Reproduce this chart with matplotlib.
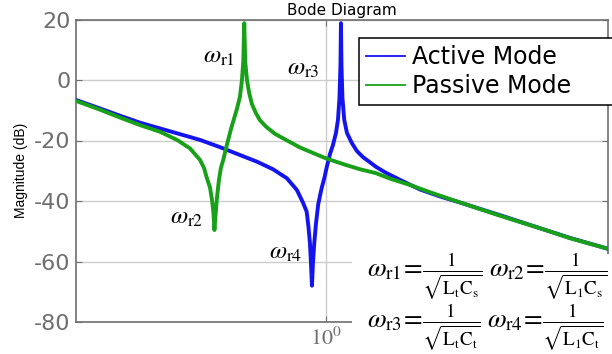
import matplotlib
matplotlib.use("Agg")
import matplotlib.pyplot as plt
from matplotlib.lines import Line2D
from matplotlib.patches import Rectangle
from matplotlib.ticker import NullLocator

plt.rcParams["axes.unicode_minus"] = False
plt.rcParams["mathtext.fontset"] = "stix"

# Frequency (normalised, rad/s) and magnitude (dB) of the two operating modes
freq_active = [0.2207, 0.2552, 0.2879, 0.3249, 0.3667, 0.4138, 0.4670, 0.5270,
               0.5947, 0.6590, 0.7259, 0.7900, 0.8392, 0.8702, 0.8899, 0.8996,
               0.9078, 0.9133, 0.9189, 0.9244, 0.9317, 0.9414, 0.9545, 0.9732,
               0.9898, 1.0061, 1.0245, 1.0432, 1.0623, 1.0752, 1.0850, 1.0916,
               1.0949, 1.0982, 1.1048, 1.1169, 1.1353, 1.1701, 1.2060, 1.2506,
               1.3046, 1.3528, 1.4285, 1.5640, 1.7650, 1.9917, 2.2475, 2.9145,
               3.6450, 4.3695, 5.4978]
mag_active = [-6.6, -9.4, -11.8, -14.1, -16.0, -17.9, -19.8, -22.2,
              -24.8, -27.0, -29.5, -32.5, -36.4, -40.5, -43.5, -48.5,
              -54.0, -60.5, -68.0, -60.5, -54.0, -47.5, -41.0, -36.0,
              -32.5, -28.5, -24.5, -21.5, -17.5, -13.2, -6.0, 5.0,
              18.8, 5.0, -6.0, -13.2, -17.5, -20.9, -23.5, -25.5,
              -27.2, -28.7, -30.5, -33.0, -36.2, -38.5, -40.5, -45.0,
              -49.0, -52.2, -55.8]

freq_passive = [0.2207, 0.2552, 0.2879, 0.3249, 0.3667, 0.4064, 0.4396, 0.4670,
                0.4784, 0.4871, 0.4961, 0.5021, 0.5067, 0.5097, 0.5128, 0.5175,
                0.5238, 0.5301, 0.5376, 0.5508, 0.5656, 0.5829, 0.5947, 0.6019,
                0.6067, 0.6103, 0.6140, 0.6204, 0.6290, 0.6394, 0.6551, 0.6711,
                0.6959, 0.7348, 0.7853, 0.8546, 0.9357, 1.0000, 1.1285, 1.2281,
                1.3528, 1.4722, 1.6614, 1.8748, 2.1544, 2.9145, 3.6450, 4.3695,
                5.4978]
mag_passive = [-6.9, -9.8, -12.4, -14.9, -17.1, -19.8, -22.6, -26.4,
               -29.0, -32.5, -35.5, -39.5, -44.0, -49.6, -45.0, -39.0,
               -33.0, -29.0, -26.4, -20.9, -15.4, -9.9, -5.5, 0.0,
               6.0, 18.8, 6.0, 0.0, -4.4, -8.0, -11.0, -13.3,
               -15.4, -17.8, -19.8, -22.3, -24.4, -25.9, -28.1, -29.5,
               -30.8, -32.6, -34.7, -37.1, -39.7, -45.2, -49.0, -52.3,
               -55.8]

series_labels = ["Active Mode", "Passive Mode"]
series_colors = ["#1414f0", "#18a018"]

freq_limits = (0.2208, 5.498)
mag_limits = (-80, 20)
mag_ticks = [-80, -60, -40, -20, 0, 20]
freq_ticks = [1.0]
freq_tick_labels = [r"$10^{0}$"]

# Resonance / anti-resonance annotations (frequency, dB)
resonance_names = [r"$\omega_{\mathrm{r1}}$", r"$\omega_{\mathrm{r2}}$",
                   r"$\omega_{\mathrm{r3}}$", r"$\omega_{\mathrm{r4}}$"]
resonance_freq = [0.5236, 0.4317, 0.8701, 0.7853]
resonance_mag = [7.9, -45.3, 4.0, -56.9]

formulas = [
    r"$\omega_{\mathrm{r1}}\!=\!\frac{1}{\sqrt{\mathrm{L_tC_s}}}$",
    r"$\omega_{\mathrm{r2}}\!=\!\frac{1}{\sqrt{\mathrm{L_1C_s}}}$",
    r"$\omega_{\mathrm{r3}}\!=\!\frac{1}{\sqrt{\mathrm{L_tC_t}}}$",
    r"$\omega_{\mathrm{r4}}\!=\!\frac{1}{\sqrt{\mathrm{L_1C_t}}}$",
]

W, H = 612, 354
fig = plt.figure(figsize=(W / 100, H / 100), dpi=100)


def fx(px):
    return px / W


def fy(py):
    return 1 - py / H


ax = fig.add_axes([fx(76), fy(322), fx(608) - fx(76), fy(19.5) - fy(322)])

ax.plot(freq_active, mag_active, color=series_colors[0], lw=2.8,
        solid_joinstyle="round", zorder=3)
ax.plot(freq_passive, mag_passive, color=series_colors[1], lw=2.8,
        solid_joinstyle="round", zorder=3.1)

ax.set_xscale("log")
ax.set_xlim(*freq_limits)
ax.set_ylim(*mag_limits)
ax.set_yticks(mag_ticks)
ax.set_xticks(freq_ticks, labels=freq_tick_labels)
ax.xaxis.set_minor_locator(NullLocator())

ax.grid(True, color="#cccccc", lw=1.0)
ax.set_axisbelow(True)
for s in ax.spines.values():
    s.set_color("#6e6e6e")
    s.set_linewidth(1.2)

ax.tick_params(axis="both", direction="in", length=4, width=0.8,
               color="#6e6e6e", labelcolor="#6e6e6e", labelsize=16,
               top=True, right=True)
ax.tick_params(axis="y", pad=4)
ax.tick_params(axis="x", pad=3)

ax.set_ylabel("Magnitude (dB)", fontsize=10, family="Liberation Sans",
              labelpad=4)
ax.set_title("Bode Diagram", fontsize=11, pad=3)

for name, f, m in zip(resonance_names, resonance_freq, resonance_mag):
    ax.text(f, m, name, fontsize=18, ha="center", va="center", zorder=6)

handles = [Line2D([], [], color=c, lw=1.3) for c in series_colors]
leg = ax.legend(handles, series_labels, loc="upper left",
                bbox_to_anchor=(fx(359), fy(38), fx(650) - fx(359), 0.0),
                bbox_transform=fig.transFigure, mode="expand",
                fontsize=17, frameon=True, fancybox=False, framealpha=1,
                edgecolor="black", borderaxespad=0, borderpad=0.3,
                handlelength=1.65, handletextpad=0.3, labelspacing=0.2)
leg.get_frame().set_linewidth(1.1)
leg.set_zorder(7)

# formula panel in the lower right corner
fig.patches.append(Rectangle((fx(352), 0), 1 - fx(352), fy(254),
                             transform=fig.transFigure, facecolor="white",
                             edgecolor="none", zorder=8))
formula_pos = [(367, 276), (489, 276), (367, 327), (487, 327)]
for txt, (px, py) in zip(formulas, formula_pos):
    fig.text(fx(px), fy(py), txt, fontsize=19.5, ha="left", va="center",
             zorder=9)

fig.savefig("out.png", dpi=100)
